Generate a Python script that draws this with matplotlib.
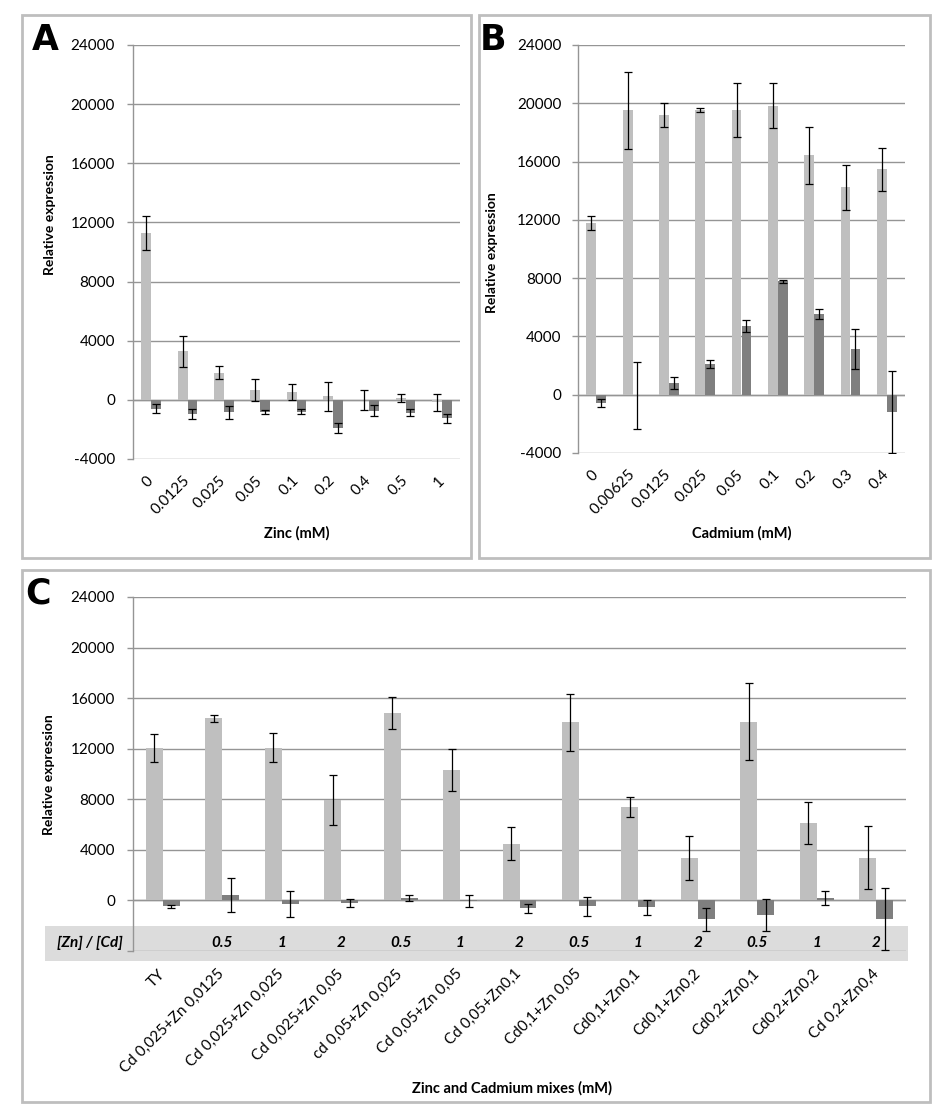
import matplotlib
matplotlib.use("Agg")
import matplotlib.pyplot as plt
import numpy as np
from matplotlib.patches import Rectangle

plt.rcParams['font.family'] = ['Lato', 'DejaVu Sans']

# ---------------- data ----------------
zinc_labels = ["0", "0.0125", "0.025", "0.05", "0.1", "0.2", "0.4", "0.5", "1"]
zinc_light = [11300, 3300, 1850, 670, 520, 240, 0, 120, -170]
zinc_light_err = [1150, 1050, 450, 750, 520, 1000, 660, 260, 560]
zinc_dark = [-600, -960, -840, -840, -790, -1920, -720, -860, -1250]
zinc_dark_err = [300, 310, 430, 150, 150, 330, 360, 250, 320]

cad_labels = ["0", "0.00625", "0.0125", "0.025", "0.05", "0.1", "0.2", "0.3", "0.4"]
cad_light = [11780, 19530, 19210, 19530, 19550, 19820, 16440, 14230, 15480]
cad_light_err = [470, 2650, 820, 150, 1850, 1550, 1960, 1520, 1470]
cad_dark = [-560, -30, 785, 2130, 4700, 7770, 5540, 3140, -1200]
cad_dark_err = [290, 2300, 420, 270, 420, 100, 350, 1370, 2800]

mix_labels = ["TY", "Cd 0,025+Zn 0,0125", "Cd 0,025+Zn 0,025", "Cd 0,025+Zn 0,05",
              "cd 0,05+Zn 0,025", "Cd 0,05+Zn 0,05", "Cd 0,05+Zn0,1", "Cd0,1+Zn 0,05",
              "Cd0,1+Zn0,1", "Cd0,1+Zn0,2", "Cd0,2+Zn0,1", "Cd0,2+Zn0,2", "Cd 0,2+Zn0,4"]
mix_ratio = ["", "0.5", "1", "2", "0.5", "1", "2", "0.5", "1", "2", "0.5", "1", "2"]
mix_light = [12080, 14400, 12080, 7970, 14820, 10290, 4500, 14100, 7380, 3380, 14150, 6125, 3380]
mix_light_err = [1100, 300, 1150, 1990, 1280, 1650, 1280, 2250, 800, 1730, 3080, 1690, 2490]
mix_dark = [-475, 420, -280, -220, 170, -50, -615, -475, -530, -1480, -1150, 200, -1480]
mix_dark_err = [100, 1340, 1020, 320, 250, 450, 360, 730, 590, 900, 1250, 570, 2460]

yticks = [-4000, 0, 4000, 8000, 12000, 16000, 20000, 24000]

LIGHT = '#BFBFBF'
DARK = '#7F7F7F'
GRID = '#959595'
BORDER = '#BEBEBE'

W, H = 933, 1116
fig = plt.figure(figsize=(W / 100, H / 100), dpi=100)


def rect(x0, y0, x1, y1):
    return [x0 / W, 1 - y1 / H, (x1 - x0) / W, (y1 - y0) / H]


# panel borders
for (x0, y0, x1, y1) in [(22, 15, 471, 558), (479, 15, 930, 558), (22, 570, 930, 1102)]:
    fig.patches.append(Rectangle((x0 / W, 1 - y1 / H), (x1 - x0) / W, (y1 - y0) / H,
                                 transform=fig.transFigure, fill=False,
                                 edgecolor=BORDER, linewidth=2.0, zorder=-2))

# grey ratio band in C (behind the axes)
fig.patches.append(Rectangle((45 / W, 1 - 961 / H), (908 - 45) / W, (961 - 926) / H,
                             transform=fig.transFigure, facecolor='#DCDCDC',
                             edgecolor='none', zorder=-1))


def draw(ax, labels, light, light_err, dark, dark_err, bw, label_pad, ypad, hide_min=False):
    n = len(labels)
    x = np.arange(n)
    ax.patch.set_visible(False)
    ax.set_xlim(-0.5, n - 0.5)
    ax.set_ylim(-4000, 24000)
    ax.set_yticks(yticks)
    if hide_min:
        ax.set_yticklabels([''] + [str(t) for t in yticks[1:]])
    else:
        ax.set_yticklabels([str(t) for t in yticks])
    ax.yaxis.grid(True, color=GRID, linewidth=1.0)
    ax.set_axisbelow(True)
    for s in ['top', 'right', 'bottom']:
        ax.spines[s].set_visible(False)
    ax.spines['left'].set_color(GRID)
    ax.spines['left'].set_linewidth(1.0)
    ax.tick_params(axis='y', length=4.3, width=1.0, color=GRID, labelsize=11, pad=ypad)
    ax.tick_params(axis='x', length=0, labelsize=11, pad=label_pad)
    ax.axhline(0, color=GRID, linewidth=1.0, zorder=1)
    ek = dict(ecolor='black', elinewidth=0.9, capsize=2.6, capthick=0.9)
    ax.bar(x - bw / 2, light, bw, color=LIGHT, yerr=light_err, error_kw=ek, zorder=2)
    ax.bar(x + bw / 2, dark, bw, color=DARK, yerr=dark_err, error_kw=ek, zorder=2)
    ax.set_xticks(x)
    ax.set_xticklabels(labels, rotation=45, ha='right', va='center', rotation_mode='anchor')
    return x


axA = fig.add_axes(rect(133, 45, 460, 459))
draw(axA, zinc_labels, zinc_light, zinc_light_err, zinc_dark, zinc_dark_err, 0.275, 14, 8.6)

axB = fig.add_axes(rect(578, 45, 905, 453))
draw(axB, cad_labels, cad_light, cad_light_err, cad_dark, cad_dark_err, 0.275, 14, 7.5)

axC = fig.add_axes(rect(133, 597, 906, 951))
xc = draw(axC, mix_labels, mix_light, mix_light_err, mix_dark, mix_dark_err, 0.285, 15, 8.6,
          hide_min=True)

# ratio labels in band
yb = 1 - 943 / H
for xi, r in zip(xc, mix_ratio):
    xf = fig.transFigure.inverted().transform(axC.transData.transform((xi, 0)))[0]
    fig.text(xf, yb, r, ha='center', va='center', fontsize=11, fontweight='bold', style='italic')
fig.text(90 / W, yb, "[Zn] / [Cd]", ha='center', va='center', fontsize=11,
         fontweight='bold', style='italic')

# axis labels
fig.text(50 / W, 1 - 215 / H, "Relative expression", rotation=90, ha='center', va='center',
         fontsize=10, fontweight='bold')
fig.text(492 / W, 1 - 253 / H, "Relative expression", rotation=90, ha='center', va='center',
         fontsize=10, fontweight='bold')
fig.text(49 / W, 1 - 775 / H, "Relative expression", rotation=90, ha='center', va='center',
         fontsize=10, fontweight='bold')
fig.text(297 / W, 1 - 533 / H, "Zinc (mM)", ha='center', va='center', fontsize=10.5, fontweight='bold')
fig.text(742 / W, 1 - 533 / H, "Cadmium (mM)", ha='center', va='center', fontsize=10.5, fontweight='bold')
fig.text(512 / W, 1 - 1088 / H, "Zinc and Cadmium mixes (mM)", ha='center', va='center',
         fontsize=10.5, fontweight='bold')

# panel letters
for lx, ly, t in [(45, 40, "A"), (493, 40, "B"), (38, 593, "C")]:
    fig.text(lx / W, 1 - ly / H, t, ha='center', va='center', fontsize=25,
             fontweight='bold', family=['DejaVu Sans'])

fig.savefig("out.png", dpi=100, facecolor='white')
